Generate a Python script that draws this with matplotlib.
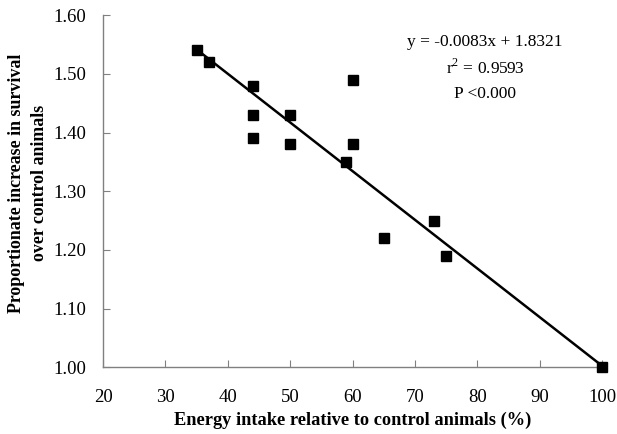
#!/usr/bin/env python3
# Survival gain vs energy intake, with the fitted regression line
import matplotlib
matplotlib.use("Agg")
import matplotlib.pyplot as plt
import numpy as np

plt.rcParams['font.family'] = ['Liberation Serif', 'DejaVu Serif']
plt.rcParams['mathtext.fontset'] = 'custom'
plt.rcParams['mathtext.rm'] = 'Liberation Serif'

energy_intake = [35, 37, 44, 44, 44, 50, 50, 59, 60, 60, 65, 73, 75, 100]
survival_gain = [1.54, 1.52, 1.48, 1.43, 1.39, 1.43, 1.38, 1.35, 1.49, 1.38,
                 1.22, 1.25, 1.19, 1.00]
slope = -0.0083
intercept = 1.8321
x_ticks = [20, 30, 40, 50, 60, 70, 80, 90, 100]
y_ticks = [1.00, 1.10, 1.20, 1.30, 1.40, 1.50, 1.60]
fit_text = ["y = -0.0083x + 1.8321", "r$^2$ = 0.9593", "P <0.000"]


def main():
    fig = plt.figure(figsize=(6.17, 4.34), dpi=100)
    ax = fig.add_axes([0.167, 0.154, 0.809, 0.811])

    xs = np.array([min(energy_intake), max(energy_intake)])
    ax.plot(xs, slope * xs + intercept, color='black', lw=1.8, zorder=2)
    ax.plot(energy_intake, survival_gain, 's', color='black', ms=6.5, zorder=3,
            clip_on=False)

    ax.set_xlim(20, 100)
    ax.set_ylim(1.00, 1.60)
    ax.set_xticks(x_ticks)
    ax.set_yticks(y_ticks)
    ax.set_yticklabels([f"{v:.2f}" for v in y_ticks])

    for side in ('top', 'right'):
        ax.spines[side].set_visible(False)
    for side in ('left', 'bottom'):
        ax.spines[side].set_color('#808080')
        ax.spines[side].set_linewidth(1.0)
    ax.tick_params(direction='in', length=5, color='#808080',
                   labelsize=13.5, pad=12)
    ax.tick_params(axis='x', pad=16)

    ax.set_xlabel("Energy intake relative to control animals (%)",
                  fontsize=13.2, fontweight='bold', labelpad=4)
    ax.set_ylabel("Proportionate increase in survival\nover control animals",
                  fontsize=12.9, fontweight='bold', linespacing=1.45)
    ax.yaxis.set_label_coords(-0.110, 0.523)

    for i, line in enumerate(fit_text):
        ax.text(0.765, 0.923 - i * 0.074, line, transform=ax.transAxes,
                ha='center', va='center', fontsize=12.5)

    fig.savefig("out.png", dpi=100)


if __name__ == '__main__':
    main()
